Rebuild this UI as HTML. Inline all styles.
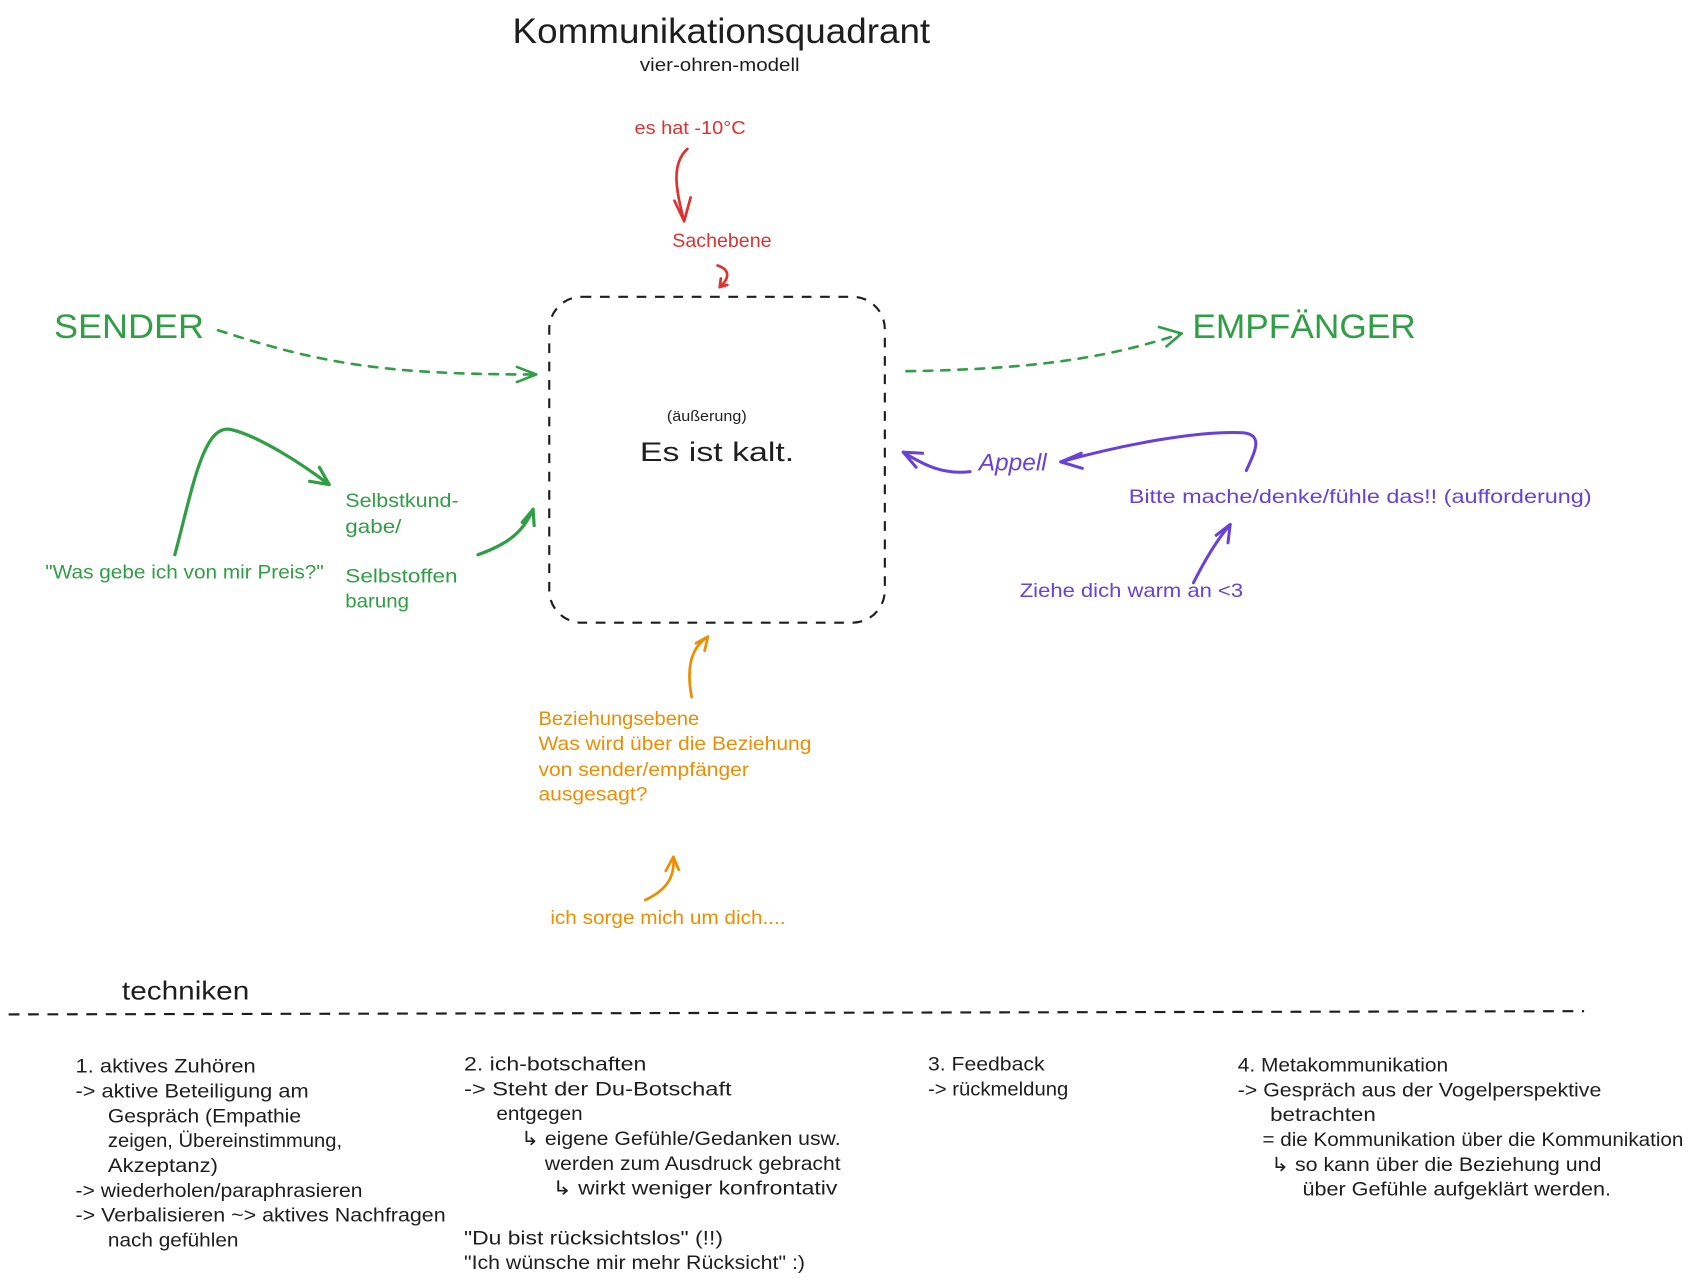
<!DOCTYPE html>
<html><head><meta charset="utf-8">
<style>
html,body{margin:0;padding:0;background:#fff;}
svg{display:block;}
text{font-family:"Liberation Sans","DejaVu Sans",sans-serif;}
</style></head>
<body>
<svg width="1692" height="1287" viewBox="0 0 1568 1192.6" preserveAspectRatio="none" xmlns="http://www.w3.org/2000/svg">
<rect x="0" y="0" width="1568" height="1192.6" fill="#fff"/>

<!-- Title -->
<g fill="#1e1e1e">
<text x="475" y="40" font-size="33" textLength="387" lengthAdjust="spacingAndGlyphs">Kommunikationsquadrant</text>
<text x="593" y="66" font-size="17" textLength="148" lengthAdjust="spacingAndGlyphs">vier-ohren-modell</text>
</g>

<!-- Red -->
<g fill="#e03131">
<text x="588" y="124" font-size="17" textLength="103" lengthAdjust="spacingAndGlyphs">es hat -10°C</text>
<text x="623" y="229" font-size="18" textLength="92" lengthAdjust="spacingAndGlyphs">Sachebene</text>
</g>
<g fill="none" stroke="#e03131" stroke-width="2.5" stroke-linecap="round" stroke-linejoin="round">
<path d="M637,138 C622,152 626,175 634,205"/>
<path d="M634,205 L625,186 M634,205 L640,183"/>
<path d="M665,246 C677,250 676,258 667,266"/>
<path d="M667,266 L668,258 M667,266 L674,264"/>
</g>

<!-- Center box -->
<rect x="509" y="275" width="311" height="302" rx="30" ry="30" fill="none" stroke="#1e1e1e" stroke-width="2" stroke-dasharray="9 8"/>
<g fill="#1e1e1e">
<text x="618" y="390" font-size="14" textLength="74" lengthAdjust="spacingAndGlyphs">(äußerung)</text>
<text x="593" y="427" font-size="25" textLength="143" lengthAdjust="spacingAndGlyphs">Es ist kalt.</text>
</g>

<!-- Green -->
<g fill="#2f9e44">
<text x="50" y="313" font-size="32" textLength="139" lengthAdjust="spacingAndGlyphs">SENDER</text>
<text x="1105" y="313" font-size="32" textLength="207" lengthAdjust="spacingAndGlyphs">EMPFÄNGER</text>
<text x="320" y="470" font-size="18" textLength="105" lengthAdjust="spacingAndGlyphs">Selbstkund-</text>
<text x="320" y="494" font-size="18" textLength="52" lengthAdjust="spacingAndGlyphs">gabe/</text>
<text x="320" y="540" font-size="18" textLength="104" lengthAdjust="spacingAndGlyphs">Selbstoffen</text>
<text x="320" y="563" font-size="18" textLength="59" lengthAdjust="spacingAndGlyphs">barung</text>
<text x="42" y="536" font-size="18" textLength="258" lengthAdjust="spacingAndGlyphs">"Was gebe ich von mir Preis?"</text>
</g>
<g fill="none" stroke="#2f9e44" stroke-width="2.4" stroke-linecap="round" stroke-linejoin="round">
<path d="M202,306 C300,338 360,347 497,347" stroke-dasharray="8 8"/>
<path d="M497,347 L479,340 M497,347 L479,354"/>
<path d="M840,344 C950,342 1020,334 1095,309" stroke-dasharray="8 8"/>
<path d="M1095,309 L1074,303 M1095,309 L1081,321"/>
</g>
<g fill="none" stroke="#2f9e44" stroke-width="3" stroke-linecap="round" stroke-linejoin="round">
<path d="M162,514 C178,455 188,392 214,398 C240,404 280,430 305,449"/>
<path d="M305,449 L287,446 M305,449 L296,433"/>
<path d="M443,514 C468,505 484,495 494,472"/>
<path d="M494,472 L484,484 M494,472 L495,487"/>
</g>

<!-- Purple -->
<g fill="#6741d9">
<text x="907" y="436" font-size="22" font-style="italic" textLength="63" lengthAdjust="spacingAndGlyphs">Appell</text>
<text x="1046" y="466" font-size="18" textLength="429" lengthAdjust="spacingAndGlyphs">Bitte mache/denke/fühle das!! (aufforderung)</text>
<text x="945" y="553" font-size="18" textLength="207" lengthAdjust="spacingAndGlyphs">Ziehe dich warm an &lt;3</text>
</g>
<g fill="none" stroke="#6741d9" stroke-width="2.8" stroke-linecap="round" stroke-linejoin="round">
<path d="M899,437 C875,440 858,432 837,419"/>
<path d="M837,419 L855,420 M837,419 L849,433"/>
<path d="M1155,436 C1162,420 1172,403 1152,401 C1110,399 1040,412 983,428"/>
<path d="M983,428 L1002,420 M983,428 L1003,434"/>
<path d="M1106,540 C1116,520 1128,500 1140,486"/>
<path d="M1140,486 L1127,496 M1140,486 L1138,503"/>
</g>

<!-- Orange -->
<g fill="#f08c00">
<text x="499" y="672" font-size="18" textLength="149" lengthAdjust="spacingAndGlyphs">Beziehungsebene</text>
<text x="499" y="695" font-size="18" textLength="253" lengthAdjust="spacingAndGlyphs">Was wird über die Beziehung</text>
<text x="499" y="719" font-size="18" textLength="195" lengthAdjust="spacingAndGlyphs">von sender/empfänger</text>
<text x="499" y="742" font-size="18" textLength="101" lengthAdjust="spacingAndGlyphs">ausgesagt?</text>
<text x="510" y="856" font-size="18" textLength="218" lengthAdjust="spacingAndGlyphs">ich sorge mich um dich....</text>
</g>
<g fill="none" stroke="#f08c00" stroke-width="2.5" stroke-linecap="round" stroke-linejoin="round">
<path d="M641,646 C636,620 640,600 656,590"/>
<path d="M656,590 L645,596 M656,590 L653,603"/>
<path d="M598,834 C615,826 626,815 624,794"/>
<path d="M624,794 L617,807 M624,794 L629,806"/>
</g>

<!-- techniken -->
<text x="113" y="926" font-size="24" fill="#1e1e1e" textLength="118" lengthAdjust="spacingAndGlyphs">techniken</text>
<path d="M8,940 L1468,937" stroke="#1e1e1e" stroke-width="2" stroke-dasharray="10 8" fill="none"/>

<g fill="#1e1e1e" font-size="18">
<!-- col1 -->
<text x="70" y="994" textLength="167" lengthAdjust="spacingAndGlyphs">1. aktives Zuhören</text>
<text x="70" y="1017" textLength="216" lengthAdjust="spacingAndGlyphs">-&gt; aktive Beteiligung am</text>
<text x="100" y="1040" textLength="179" lengthAdjust="spacingAndGlyphs">Gespräch (Empathie</text>
<text x="100" y="1063" textLength="217" lengthAdjust="spacingAndGlyphs">zeigen, Übereinstimmung,</text>
<text x="100" y="1086" textLength="102" lengthAdjust="spacingAndGlyphs">Akzeptanz)</text>
<text x="70" y="1109" textLength="266" lengthAdjust="spacingAndGlyphs">-&gt; wiederholen/paraphrasieren</text>
<text x="70" y="1132" textLength="343" lengthAdjust="spacingAndGlyphs">-&gt; Verbalisieren ~&gt; aktives Nachfragen</text>
<text x="100" y="1155" textLength="121" lengthAdjust="spacingAndGlyphs">nach gefühlen</text>
<!-- col2 -->
<text x="430" y="992" textLength="169" lengthAdjust="spacingAndGlyphs">2. ich-botschaften</text>
<text x="430" y="1015" textLength="248" lengthAdjust="spacingAndGlyphs">-&gt; Steht der Du-Botschaft</text>
<text x="460" y="1038" textLength="80" lengthAdjust="spacingAndGlyphs">entgegen</text>
<text x="483" y="1061" textLength="296" lengthAdjust="spacingAndGlyphs">↳ eigene Gefühle/Gedanken usw.</text>
<text x="505" y="1084" textLength="274" lengthAdjust="spacingAndGlyphs">werden zum Ausdruck gebracht</text>
<text x="512" y="1107" textLength="264" lengthAdjust="spacingAndGlyphs">↳ wirkt weniger konfrontativ</text>
<text x="430" y="1153" textLength="240" lengthAdjust="spacingAndGlyphs">"Du bist rücksichtslos" (!!)</text>
<text x="430" y="1176" textLength="316" lengthAdjust="spacingAndGlyphs">"Ich wünsche mir mehr Rücksicht" :)</text>
<!-- col3 -->
<text x="860" y="992" textLength="108" lengthAdjust="spacingAndGlyphs">3. Feedback</text>
<text x="860" y="1015" textLength="130" lengthAdjust="spacingAndGlyphs">-&gt; rückmeldung</text>
<!-- col4 -->
<text x="1147" y="993" textLength="195" lengthAdjust="spacingAndGlyphs">4. Metakommunikation</text>
<text x="1147" y="1016" textLength="337" lengthAdjust="spacingAndGlyphs">-&gt; Gespräch aus der Vogelperspektive</text>
<text x="1177" y="1039" textLength="98" lengthAdjust="spacingAndGlyphs">betrachten</text>
<text x="1170" y="1062" textLength="390" lengthAdjust="spacingAndGlyphs">= die Kommunikation über die Kommunikation</text>
<text x="1178" y="1085" textLength="306" lengthAdjust="spacingAndGlyphs">↳ so kann über die Beziehung und</text>
<text x="1207" y="1108" textLength="286" lengthAdjust="spacingAndGlyphs">über Gefühle aufgeklärt werden.</text>
</g>
</svg>
</body></html>
